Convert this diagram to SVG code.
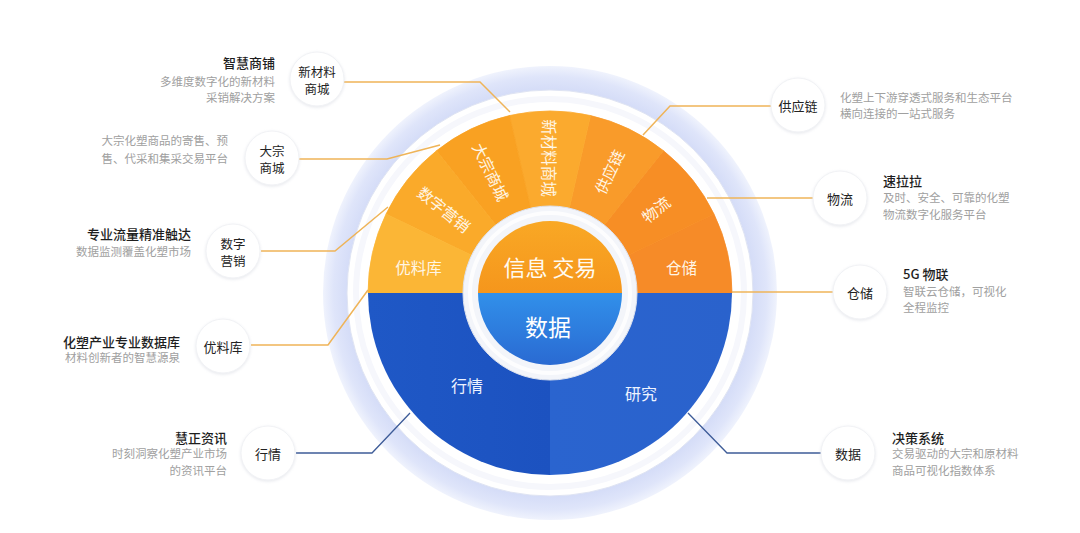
<svg xmlns="http://www.w3.org/2000/svg" width="1080" height="533" viewBox="0 0 1080 533">
<defs>
<radialGradient id="halo" cx="550" cy="293" r="228" gradientUnits="userSpaceOnUse">
<stop offset="0.88" stop-color="#d3dbf7"/>
<stop offset="0.95" stop-color="#dfe5fa"/>
<stop offset="1" stop-color="#f1f4fd"/>
</radialGradient>
<linearGradient id="ctrTop" x1="0" y1="0" x2="0" y2="1">
<stop offset="0" stop-color="#f9a825"/>
<stop offset="1" stop-color="#f5961c"/>
</linearGradient>
<linearGradient id="ctrBot" x1="0" y1="0" x2="0" y2="1">
<stop offset="0" stop-color="#3190ea"/>
<stop offset="1" stop-color="#2a6ad2"/>
</linearGradient>
<linearGradient id="bluL" x1="0" y1="0" x2="1" y2="0">
<stop offset="0" stop-color="#1f58c6"/>
<stop offset="1" stop-color="#1c52c0"/>
</linearGradient>
<linearGradient id="bluR" x1="0" y1="0" x2="1" y2="0">
<stop offset="0" stop-color="#2a64cf"/>
<stop offset="1" stop-color="#2a62cc"/>
</linearGradient>
<filter id="soft" x="-20%" y="-20%" width="140%" height="140%">
<feDropShadow dx="0" dy="1" stdDeviation="1.5" flood-color="#c8cbd6" flood-opacity="0.45"/>
</filter>
</defs>
<style>
.nc{fill:#ffffff;stroke:#f1f2f5;stroke-width:1;filter:url(#soft)}
.nt{font-family:"Noto Sans CJK SC","Noto Sans",sans-serif;font-size:13px;fill:#222;text-anchor:middle;dominant-baseline:central}
.n2{font-size:12.5px}
.tt{font-family:"Noto Sans CJK SC","Noto Sans",sans-serif;font-size:13px;fill:#1e1e1e;font-weight:500;dominant-baseline:central}
.dt{font-family:"Noto Sans CJK SC","Noto Sans",sans-serif;font-size:11.5px;fill:#a0a0a0;dominant-baseline:central}
.r{text-anchor:end}
.sl{font-family:"Noto Sans CJK SC","Noto Sans",sans-serif;font-size:15.5px;fill:#fff6e6;text-anchor:middle;dominant-baseline:central}
.bl{font-family:"Noto Sans CJK SC","Noto Sans",sans-serif;font-size:16px;fill:#eef3ff;text-anchor:middle;dominant-baseline:central}
.co{fill:none;stroke:#efb458;stroke-width:1.5}
.cb{fill:none;stroke:#3e5c98;stroke-width:1.3}
.sg{stroke-width:0.8;stroke-linejoin:round}
</style>
<rect width="1080" height="533" fill="#ffffff"/>

<g id="rings">
<circle cx="550" cy="293" r="227" fill="url(#halo)"/>
<circle cx="550" cy="293" r="203" fill="#ffffff" stroke="#dfe4f3" stroke-width="1"/>
<circle cx="550" cy="293" r="194" fill="none" stroke="#f6f7fc" stroke-width="6"/>
</g>

<g id="segments">
<path class="sg" d="M550,293 L732,293 A182,182 0 0 0 713.98,214.03 Z" fill="#f68b28" stroke="#f68b28"/>
<path class="sg" d="M550,293 L713.98,214.03 A182,182 0 0 0 663.47,150.71 Z" fill="#f78e25" stroke="#f78e25"/>
<path class="sg" d="M550,293 L663.47,150.71 A182,182 0 0 0 590.50,115.56 Z" fill="#f99b2a" stroke="#f99b2a"/>
<path class="sg" d="M550,293 L590.50,115.56 A182,182 0 0 0 509.50,115.56 Z" fill="#fbaa2e" stroke="#fbaa2e"/>
<path class="sg" d="M550,293 L509.50,115.56 A182,182 0 0 0 436.53,150.71 Z" fill="#f9a122" stroke="#f9a122"/>
<path class="sg" d="M550,293 L436.53,150.71 A182,182 0 0 0 386.02,214.03 Z" fill="#faaa2a" stroke="#faaa2a"/>
<path class="sg" d="M550,293 L386.02,214.03 A182,182 0 0 0 368,293 Z" fill="#fbb636" stroke="#fbb636"/>
<path d="M368,293 A182,182 0 0 0 550,475 L550,293 Z" fill="url(#bluL)"/>
<path d="M550,293 L550,475 A182,182 0 0 0 732,293 Z" fill="url(#bluR)"/>
<text class="sl" x="681.6" y="267">仓储</text>
<text class="sl" transform="translate(655.5,208.8) rotate(-38.57)">物流</text>
<text class="sl" transform="translate(608.6,171.4) rotate(-64.29)">供应链</text>
<text class="sl" transform="translate(550,158) rotate(90)">新材料商城</text>
<text class="sl" transform="translate(491.4,171.4) rotate(64.29)">大宗商城</text>
<text class="sl" transform="translate(444.5,208.8) rotate(38.57)">数字营销</text>
<text class="sl" x="418.4" y="267">优料库</text>
<text class="bl" x="467" y="385">行情</text>
<text class="bl" x="641" y="393">研究</text>
</g>

<g id="center">
<circle cx="550" cy="293" r="87" fill="#f3f5fa" stroke="#dde2ee" stroke-width="1"/>
<circle cx="550" cy="293" r="80" fill="none" stroke="#ffffff" stroke-width="4" opacity="0.8"/>
<path d="M478,293 A72,72 0 0 1 622,293 Z" fill="url(#ctrTop)"/>
<path d="M478,293 A72,72 0 0 0 622,293 Z" fill="url(#ctrBot)"/>
<text x="550" y="266" font-family="Noto Sans CJK SC, sans-serif" font-size="22" fill="#fffaf0" text-anchor="middle" dominant-baseline="central">信息 交易</text>
<text x="548" y="326" font-family="Noto Sans CJK SC, sans-serif" font-size="23" fill="#ffffff" text-anchor="middle" dominant-baseline="central">数据</text>
</g>

<g id="connectors">
<polyline class="co" points="344,82 480,82 510,112"/>
<polyline class="co" points="299,159 387,159 440,145"/>
<polyline class="co" points="261,251 335,251 388,207"/>
<polyline class="co" points="251,345 328,345 368,290"/>
<polyline class="cb" points="296,453 372,453 410,413"/>
<polyline class="co" points="643,135 670,106 771,106"/>
<polyline class="co" points="707,198 813,198"/>
<polyline class="co" points="732,292 833,292"/>
<polyline class="cb" points="688,413 727,453 821,453"/>
</g>

<g id="node-xincailiao">
<circle class="nc" cx="317" cy="79" r="27"/>
<text class="nt n2" x="317" y="71">新材料</text>
<text class="nt n2" x="317" y="88">商城</text>
<text class="tt r" x="275" y="62">智慧商铺</text>
<text class="dt r" x="275" y="81">多维度数字化的新材料</text>
<text class="dt r" x="275" y="97">采销解决方案</text>
</g>

<g id="node-dazong">
<circle class="nc" cx="272" cy="158" r="27"/>
<text class="nt n2" x="272" y="150">大宗</text>
<text class="nt n2" x="272" y="167">商城</text>
<text class="dt r" x="228" y="140">大宗化塑商品的寄售、预</text>
<text class="dt r" x="228" y="158">售、代采和集采交易平台</text>
</g>

<g id="node-shuziyingxiao">
<circle class="nc" cx="233" cy="251" r="27"/>
<text class="nt n2" x="233" y="243">数字</text>
<text class="nt n2" x="233" y="260">营销</text>
<text class="tt r" x="191" y="233">专业流量精准触达</text>
<text class="dt r" x="191" y="251">数据监测覆盖化塑市场</text>
</g>

<g id="node-youliaoku">
<circle class="nc" cx="223" cy="346" r="27"/>
<text class="nt" x="223" y="346">优料库</text>
<text class="tt r" x="180" y="341">化塑产业专业数据库</text>
<text class="dt r" x="180" y="357">材料创新者的智慧源泉</text>
</g>

<g id="node-hangqing">
<circle class="nc" cx="268" cy="453" r="27"/>
<text class="nt" x="268" y="453">行情</text>
<text class="tt r" x="227" y="437">慧正资讯</text>
<text class="dt r" x="227" y="453">时刻洞察化塑产业市场</text>
<text class="dt r" x="227" y="470">的资讯平台</text>
</g>

<g id="node-gongyinglian">
<circle class="nc" cx="798" cy="105" r="27"/>
<text class="nt" x="798" y="105">供应链</text>
<text class="dt" x="840" y="97">化塑上下游穿透式服务和生态平台</text>
<text class="dt" x="840" y="113">横向连接的一站式服务</text>
</g>

<g id="node-wuliu">
<circle class="nc" cx="840" cy="198" r="27"/>
<text class="nt" x="840" y="198">物流</text>
<text class="tt" x="883" y="180">速拉拉</text>
<text class="dt" x="883" y="197">及时、安全、可靠的化塑</text>
<text class="dt" x="883" y="214">物流数字化服务平台</text>
</g>

<g id="node-cangchu">
<circle class="nc" cx="860" cy="292" r="27"/>
<text class="nt" x="860" y="292">仓储</text>
<text class="tt" x="903" y="273">5G 物联</text>
<text class="dt" x="903" y="291">智联云仓储，可视化</text>
<text class="dt" x="903" y="307">全程监控</text>
</g>

<g id="node-shuju">
<circle class="nc" cx="848" cy="453" r="27"/>
<text class="nt" x="848" y="453">数据</text>
<text class="tt" x="892" y="437">决策系统</text>
<text class="dt" x="892" y="453">交易驱动的大宗和原材料</text>
<text class="dt" x="892" y="470">商品可视化指数体系</text>
</g>
</svg>
